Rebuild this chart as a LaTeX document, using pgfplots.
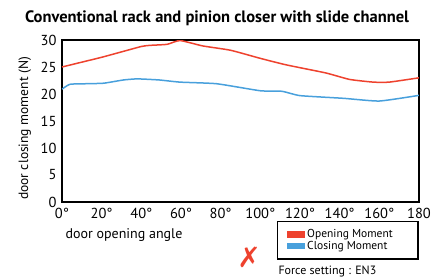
\documentclass[border=0pt]{standalone}
\usepackage{pgfplots}
\pgfplotsset{compat=1.18}
\usepackage{fontspec}
\setmainfont{PT Sans}
\newfontfamily\symfont{DejaVu Sans}
\definecolor{openred}{RGB}{238,66,46}
\definecolor{closeblue}{RGB}{72,160,220}
\begin{document}
\begin{tikzpicture}[x=1pt,y=1pt]
\useasboundingbox (0,0) rectangle (432,277);
\node[font=\fontsize{16.5}{18}\selectfont\bfseries] at (217,259) {Conventional rack and pinion closer with slide channel};
\begin{axis}[
  at={(62pt,75pt)}, anchor=south west,
  width=357pt, height=162pt, scale only axis,
  xmin=0, xmax=180, ymin=0, ymax=30,
  xtick={0,20,...,180},
  xticklabels={0°,20°,40°,60°,80°,100°,120°,140°,160°,180},
  ytick={0,5,...,30},
  major tick length=0pt,
  axis line style={line width=1.5pt, black},
  tick label style={font=\fontsize{14.5}{16}\selectfont},
  xticklabel style={yshift=-3pt},
  yticklabel style={xshift=-2pt},
  /pgf/number format/assume math mode=true,
  xlabel={door opening angle},
  xlabel style={at={(axis description cs:0,-0.205)}, anchor=west, font=\fontsize{14}{16}\selectfont},
  ylabel={door closing moment (N)},
  ylabel style={at={(axis description cs:-0.104,0.454)}, anchor=center, font=\fontsize{13.5}{16}\selectfont},
  legend cell align=left,
  legend style={at={(1,-0.117)}, anchor=north east, draw=black, line width=1.5pt,
    font=\fontsize{11.5}{12}\selectfont, inner xsep=9pt, inner ysep=6pt, row sep=-2pt},
]
\addplot[openred, line width=1.5pt, smooth, tension=0.3,
  legend image code/.code={\fill[openred] (0pt,-2.5pt) rectangle (17pt,2.5pt);}]
  coordinates {(0,25.0) (10,25.9) (20,26.8) (30,27.8) (40,28.8) (44,29.0) (53,29.2) (59.5,29.9) (71,28.9) (85,28.1) (100,26.6) (113,25.4) (133,23.9) (145,22.7) (157,22.2) (165,22.2) (180,23.0)};
\addlegendentry{\makebox[100pt][l]{Opening Moment}}
\addplot[closeblue, line width=1.5pt, smooth, tension=0.3,
  legend image code/.code={\fill[closeblue] (0pt,-2.5pt) rectangle (17pt,2.5pt);}]
  coordinates {(0,20.9) (4,21.8) (12,21.9) (21,22.0) (31,22.6) (38,22.8) (49,22.6) (59.5,22.2) (78,21.9) (100,20.6) (111,20.5) (120,19.7) (142,19.2) (160,18.7) (180,19.75)};
\addlegendentry{\makebox[100pt][l]{Closing Moment}}
\end{axis}
\node[anchor=west, font=\fontsize{12}{13}\selectfont] at (275,5) {Force setting : EN3};
\node[text=openred, font=\symfont\fontsize{28}{30}\selectfont] at (249,20) {✗};
\end{tikzpicture}
\end{document}
